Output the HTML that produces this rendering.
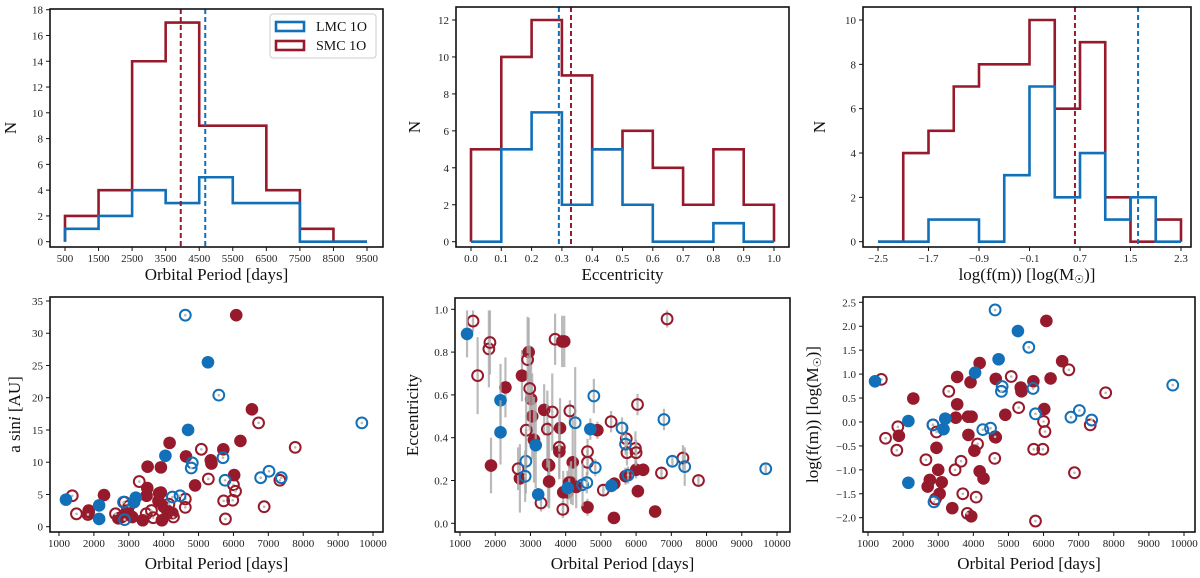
<!DOCTYPE html>
<html><head><meta charset="utf-8">
<style>
body{margin:0;background:#fff;}
svg{display:block;font-family:"Liberation Serif",serif;}
</style></head>
<body>
<svg id="fig" width="1200" height="578" viewBox="0 0 1200 578" xmlns="http://www.w3.org/2000/svg"></svg>
<script>
// ---------- DATA ----------
const periodEdges=[500,1500,2500,3500,4500,5500,6500,7500,8500,9500];
const periodLMC=[1,2,4,3,5,3,3,0,0];
const periodSMC=[2,4,14,17,9,9,4,1,0];
const periodMedLMC=4680, periodMedSMC=3950;
const eccEdges=[0,0.1,0.2,0.3,0.4,0.5,0.6,0.7,0.8,0.9,1.0];
const eccLMC=[0,5,7,2,5,2,0,0,1,0];
const eccSMC=[5,10,12,9,5,6,4,2,5,2];
const eccMedLMC=0.29, eccMedSMC=0.33;
const fmEdges=[-2.5,-2.1,-1.7,-1.3,-0.9,-0.5,-0.1,0.3,0.7,1.1,1.5,1.9,2.3];
const fmLMC=[0,0,1,1,0,3,7,2,4,1,2,0];
const fmSMC=[0,4,5,7,8,8,10,6,9,2,0,1];
const fmMedLMC=1.62, fmMedSMC=0.62;

// a sini panel: [period, value]
const asLMCf=[[1200,4.2],[2150,3.3],[2150,1.2],[3200,4.5],[3150,3.8],[4050,11],[4700,15],[5270,25.5]];
const asLMCo=[[4620,32.8],[5580,20.4],[5700,10.7],[4820,9.9],[4790,9.1],[4250,4.6],[4470,4.8],[2850,3.8],[2880,1.1],[5760,7.2],[6780,7.6],[7020,8.6],[7370,7.6],[9680,16.1]];
const asSMCf=[[6080,32.8],[6530,18.2],[6200,13.3],[5710,12],[4170,13],[4640,10.9],[5350,10.3],[5370,9.8],[3540,9.3],[3920,9.2],[6020,8],[4900,6.4],[2290,4.9],[3530,6],[3510,4.8],[3870,5.2],[3920,5.3],[3850,4],[4000,3.1],[4100,2.5],[4250,2.1],[2700,1.3],[2800,1.5],[2950,2.5],[3000,2],[3100,1.5],[3400,1],[3950,1],[1850,2.5],[1850,2.2]];
const asSMCo=[[1380,4.8],[1500,2],[1830,1.9],[2620,2],[2880,3.8],[3000,3.2],[3300,7],[3500,2],[3650,2.5],[3700,1.4],[4150,3.5],[4280,1.5],[4620,4.3],[4620,3],[5080,12],[5280,7.4],[5720,4],[5980,4.1],[5770,1.2],[6000,6.5],[6060,5.5],[6720,16.1],[6880,3.1],[7330,7.2],[7770,12.3]];

// eccentricity panel: [period, ecc, err]
const ecLMCf=[[1200,0.885,0.11],[2150,0.575,0.17],[2150,0.425,0.15],[3150,0.365,0.2],[3220,0.135,0.03],[4060,0.165,0.03],[4700,0.44,0.05],[5300,0.175,0.03]];
const ecLMCo=[[2870,0.29,0.15],[2850,0.22,0.12],[4270,0.47,0.26],[4800,0.595,0.08],[4840,0.26,0.04],[4480,0.18,0.1],[4600,0.19,0.05],[5600,0.445,0.05],[5700,0.37,0.05],[5770,0.225,0.04],[6790,0.485,0.05],[7030,0.29,0.03],[7380,0.265,0.09],[9680,0.255,0.02]];
const ecSMCf=[[1880,0.27,0.13],[2290,0.635,0.14],[2760,0.69,0.12],[2700,0.21,0.16],[2950,0.8,0.16],[3020,0.58,0.2],[3050,0.5,0.2],[3100,0.39,0.2],[3390,0.53,0.12],[3500,0.275,0.2],[3530,0.27,0.2],[3530,0.195,0.1],[3840,0.445,0.14],[3820,0.335,0.12],[3900,0.85,0.12],[3960,0.85,0.12],[3930,0.145,0.1],[4050,0.145,0.1],[4200,0.285,0.2],[4150,0.19,0.1],[4300,0.17,0.1],[4620,0.075,0.04],[4900,0.435,0.04],[5380,0.185,0.03],[5370,0.025,0.02],[5700,0.22,0.04],[6000,0.25,0.04],[6200,0.25,0.03],[6050,0.15,0.03],[6540,0.055,0.02]];
const ecSMCo=[[1370,0.945,0.05],[1500,0.69,0.18],[1820,0.815,0.18],[1850,0.845,0.15],[2650,0.255,0.1],[2880,0.435,0.18],[2920,0.765,0.2],[2980,0.63,0.2],[3300,0.095,0.04],[3480,0.44,0.18],[3620,0.52,0.18],[3700,0.86,0.12],[3820,0.355,0.15],[3920,0.065,0.04],[4100,0.19,0.08],[4120,0.525,0.05],[4620,0.335,0.06],[4620,0.285,0.06],[5070,0.155,0.03],[5290,0.475,0.05],[5720,0.395,0.06],[5740,0.33,0.06],[5980,0.35,0.08],[6000,0.33,0.06],[6040,0.555,0.05],[6720,0.235,0.03],[6880,0.955,0.04],[7330,0.305,0.06],[7770,0.2,0.02]];

// log f(m) panel: [period, logfm]
const fmLMCf=[[1200,0.85],[2150,0.02],[2150,-1.27],[3200,0.07],[3150,-0.15],[4050,1.03],[4720,1.31],[5270,1.9]];
const fmLMCo=[[4620,2.34],[5580,1.56],[4820,0.74],[4800,0.64],[5700,0.7],[5770,0.17],[4270,-0.16],[4490,-0.13],[2850,-0.06],[2880,-1.67],[6780,0.1],[7020,0.24],[7370,0.04],[9680,0.77]];
const fmSMCf=[[6080,2.11],[6530,1.27],[4180,1.23],[6200,0.91],[3540,0.94],[4640,0.9],[5710,0.85],[3920,0.83],[5350,0.72],[5370,0.64],[2290,0.49],[3540,0.37],[6020,0.27],[4910,0.15],[3850,0.11],[3950,0.11],[3500,0.09],[1880,-0.29],[3860,-0.27],[4640,-0.32],[2950,-0.54],[4030,-0.6],[3000,-1.0],[4180,-1.03],[4290,-1.18],[2760,-1.21],[3100,-1.26],[2700,-1.35],[3040,-1.5],[3400,-1.8],[3940,-1.97]];
const fmSMCo=[[1380,0.89],[1500,-0.34],[1850,-0.1],[1820,-0.59],[2650,-0.79],[2850,-0.06],[2950,-0.21],[2920,-1.61],[3300,0.64],[3480,-1.0],[3650,-0.82],[3700,-1.5],[3830,-1.91],[4120,-0.46],[4080,-1.57],[4620,-0.31],[4610,-0.76],[5080,0.95],[5290,0.3],[5720,-0.57],[5980,-0.57],[6000,0.01],[6040,-0.2],[5770,-2.07],[6720,1.09],[6880,-1.06],[7330,-0.06],[7770,0.61]];

const periodTicks=[500,1500,2500,3500,4500,5500,6500,7500,8500,9500];
const countTicks18=[0,2,4,6,8,10,12,14,16,18];
const eccTicksX=[0,0.1,0.2,0.3,0.4,0.5,0.6,0.7,0.8,0.9,1.0];
const countTicks12=[0,2,4,6,8,10,12];
const fmTicksX=[-2.5,-1.7,-0.9,-0.1,0.7,1.5,2.3];
const countTicks10=[0,2,4,6,8,10];
const scatX=[1000,2000,3000,4000,5000,6000,7000,8000,9000,10000];
const asTicks=[0,5,10,15,20,25,30,35];
const ecTicks=[0,0.2,0.4,0.6,0.8,1.0];
const lfTicks=[-2.0,-1.5,-1.0,-0.5,0.0,0.5,1.0,1.5,2.0,2.5];

// ---------- DRAW ----------
const NS="http://www.w3.org/2000/svg";
const svg=document.getElementById('fig');
const BLUE="#1170b8", RED="#961a2b";
function mk(tag,attrs,parent){const e=document.createElementNS(NS,tag);for(const k in attrs)e.setAttribute(k,attrs[k]);(parent||svg).appendChild(e);return e;}
function lin(d0,d1,r0,r1){return v=>r0+(v-d0)*(r1-r0)/(d1-d0);}

function axes(p){
  const g=mk('g',{});
  
  
  p.g=g;
  return g;
}
function frame(p){
  const r=mk('rect',{x:p.L,y:p.T,width:p.R-p.L,height:p.B-p.T,fill:'none',stroke:'#111','stroke-width':1.6},p.g);
  
  
  p.xt.forEach(v=>{const x=p.sx(v);
    mk('line',{x1:x,x2:x,y1:p.B,y2:p.B+4,stroke:'#111','stroke-width':1},p.g);
    const t=mk('text',{x:x,y:p.B+15,'font-size':11,'text-anchor':'middle',fill:'#222'},p.g);
    t.textContent=p.fx?p.fx(v):v;
    
    });
  p.yt.forEach(v=>{const y=p.sy(v);
    mk('line',{x1:p.L-4,x2:p.L,y1:y,y2:y,stroke:'#111','stroke-width':1},p.g);
    const t=mk('text',{x:p.L-7,y:y+4,'font-size':11,'text-anchor':'end',fill:'#222'},p.g);
    t.textContent=p.fy?p.fy(v):v;
    
    });
  const xl=mk('text',{x:(p.L+p.R)/2,y:p.xly,'font-size':17,'text-anchor':'middle',fill:'#111'},p.g);
  xl.innerHTML=p.xl;
  
  
  const yl=mk('text',{x:0,y:0,'font-size':17,'text-anchor':'middle',fill:'#111',transform:`translate(${p.ylx},${(p.T+p.B)/2}) rotate(-90)`},p.g);
  yl.innerHTML=p.yl;
  
  
}
function step(p,edges,counts,color,name){
  let d=`M${p.sx(edges[0])},${p.sy(0)}`;
  counts.forEach((c,i)=>{d+=` L${p.sx(edges[i])},${p.sy(c)} L${p.sx(edges[i+1])},${p.sy(c)}`;});
  d+=` L${p.sx(edges[edges.length-1])},${p.sy(0)}`;
  const e=mk('path',{d:d,fill:'none',stroke:color,'stroke-width':2.6},p.g);
  
  
}
function median(p,v,color,name){
  const x=p.sx(v);
  const e=mk('line',{x1:x,x2:x,y1:p.T,y2:p.B,stroke:color,'stroke-width':2,'stroke-dasharray':'5,3'},p.g);
  
  
}
function points(p,arr,color,filled,name){
  arr.forEach(d=>{
    const x=p.sx(d[0]),y=p.sy(d[1]);
    if(d.length>2){mk('line',{x1:x,x2:x,y1:p.sy(d[1]-d[2]),y2:p.sy(d[1]+d[2]),stroke:'#aaa','stroke-width':2.2,opacity:0.8},p.g);}
    let c;
    if(filled){c=mk('circle',{cx:x,cy:y,r:6.3,fill:color},p.g);}
    else{mk('circle',{cx:x,cy:y,r:1.3,fill:'#bbb'},p.g);c=mk('circle',{cx:x,cy:y,r:5.4,fill:'none',stroke:color,'stroke-width':2},p.g);}
    
    
  });
}

// Panel 1
const p1={name:'period-histogram',L:50,R:383,T:9,B:247,xt:periodTicks,yt:countTicks18,xly:280,ylx:16,xl:'Orbital Period [days]',yl:'N'};
p1.sx=lin(500,9500,65,367);p1.sy=lin(0,18,241.7,9.7);axes(p1);
step(p1,periodEdges,periodSMC,RED,'smc-period-hist');step(p1,periodEdges,periodLMC,BLUE,'lmc-period-hist');
median(p1,periodMedSMC,RED,'smc-period-median');median(p1,periodMedLMC,BLUE,'lmc-period-median');
frame(p1);
// legend
const lg=mk('g',{},p1.g);
mk('rect',{x:270,y:14,width:106,height:44,rx:3,fill:'#fff',stroke:'#ccc','stroke-width':1},lg);
[[BLUE,'LMC 1O',22],[RED,'SMC 1O',41]].forEach(e=>{
  mk('rect',{x:276,y:e[2],width:28,height:9,fill:'none',stroke:e[0],'stroke-width':2.6},lg);
  const t=mk('text',{x:316,y:e[2]+9,'font-size':14,fill:'#111'},lg);t.textContent=e[1];
  });

// Panel 2
const p2={name:'eccentricity-histogram',L:456,R:789,T:7,B:247,xt:eccTicksX,yt:countTicks12,xly:280,ylx:420,xl:'Eccentricity',yl:'N',fx:v=>v.toFixed(1)};
p2.sx=lin(0,1,471,774);p2.sy=lin(0,12,241.7,20);axes(p2);
step(p2,eccEdges,eccSMC,RED,'smc-ecc-hist');step(p2,eccEdges,eccLMC,BLUE,'lmc-ecc-hist');
median(p2,eccMedLMC,BLUE,'lmc-ecc-median');median(p2,eccMedSMC,RED,'smc-ecc-median');
frame(p2);

// Panel 3
const p3={name:'massfunction-histogram',L:863,R:1191,T:7,B:247,xt:fmTicksX,yt:countTicks10,xly:280,ylx:825,xl:'log(f(m)) [log(M<tspan font-size="11" dy="3">☉</tspan><tspan dy="-3">)]</tspan>',yl:'N',fx:v=>v.toFixed(1).replace('-','−')};
p3.sx=lin(-2.5,2.3,878,1181);p3.sy=lin(0,10,241.7,20);axes(p3);
step(p3,fmEdges,fmSMC,RED,'smc-fm-hist');step(p3,fmEdges,fmLMC,BLUE,'lmc-fm-hist');
median(p3,fmMedSMC,RED,'smc-fm-median');median(p3,fmMedLMC,BLUE,'lmc-fm-median');
frame(p3);

// Panel 4
const p4={name:'asini-scatter',L:50,R:383,T:297,B:532,xt:scatX,yt:asTicks,xly:569,ylx:20,xl:'Orbital Period [days]',yl:'a sin<tspan font-style="italic">i</tspan> [AU]'};
p4.sx=lin(1000,10000,59,373);p4.sy=lin(0,35,526.7,301);axes(p4);
points(p4,asSMCf,RED,true,'smc-point');points(p4,asSMCo,RED,false,'smc-point-open');
points(p4,asLMCf,BLUE,true,'lmc-point');points(p4,asLMCo,BLUE,false,'lmc-point-open');
frame(p4);

// Panel 5
const p5={name:'eccentricity-scatter',L:455,R:790,T:298,B:532,xt:scatX,yt:ecTicks,xly:569,ylx:418,xl:'Orbital Period [days]',yl:'Eccentricity',fy:v=>v.toFixed(1)};
p5.sx=lin(1000,10000,460,777);p5.sy=lin(0,1,523.3,309.3);axes(p5);
points(p5,ecSMCf,RED,true,'smc-point');points(p5,ecSMCo,RED,false,'smc-point-open');
points(p5,ecLMCf,BLUE,true,'lmc-point');points(p5,ecLMCo,BLUE,false,'lmc-point-open');
frame(p5);

// Panel 6
const p6={name:'massfunction-scatter',L:863,R:1195,T:297,B:532,xt:scatX,yt:lfTicks,xly:569,ylx:818,xl:'Orbital Period [days]',yl:'log(f(m)) [log(M<tspan font-size="11" dy="3">☉</tspan><tspan dy="-3">)]</tspan>',fy:v=>v.toFixed(1).replace('-','−')};
p6.sx=lin(1000,10000,868,1184);p6.sy=lin(-2,2.5,517.7,302.3);axes(p6);
points(p6,fmSMCf,RED,true,'smc-point');points(p6,fmSMCo,RED,false,'smc-point-open');
points(p6,fmLMCf,BLUE,true,'lmc-point');points(p6,fmLMCo,BLUE,false,'lmc-point-open');
frame(p6);
</script>
</body></html>
